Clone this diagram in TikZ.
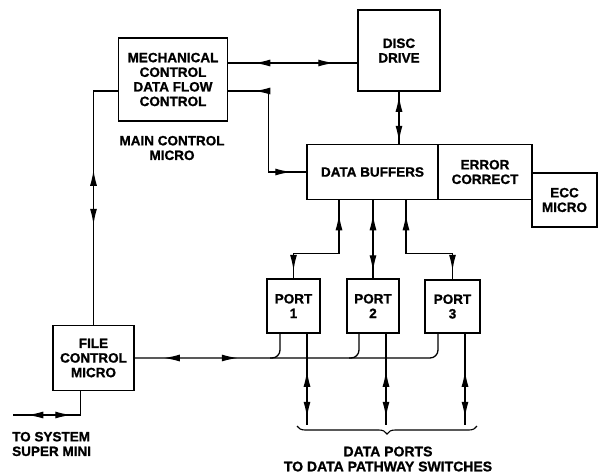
\documentclass[tikz,border=0pt]{standalone}
\usepackage{fontspec}
\setmainfont{Liberation Sans}[BoldFeatures={FakeBold=1.2}]
\usetikzlibrary{arrows.meta,decorations.markings,decorations.pathreplacing,calc}
\tikzset{
  box/.style={draw, line width=1.5pt, inner sep=0pt, align=center,
    font=\bfseries\fontsize{13.5}{14.6}\selectfont},
  lbl/.style={inner sep=0pt, align=center,
    font=\bfseries\fontsize{13.5}{14.6}\selectfont},
  conn/.style={line width=1.3pt},
  arrs/.style 2 args={conn, postaction={decorate, decoration={markings,
    mark=at position #1 with {\arrowreversed{Latex[length=16pt,width=7pt]}},
    mark=at position #2 with {\arrow{Latex[length=16pt,width=7pt]}}}}},
}
\begin{document}
\begin{tikzpicture}[x=1pt,y=-1pt]
\useasboundingbox (0,0) rectangle (600,475);

% boxes
\node[box, minimum width=109pt, minimum height=83pt] (mcc) at (173,79.5) {MECHANICAL\\CONTROL\\DATA FLOW\\CONTROL};
\node[box, minimum width=82pt, minimum height=81pt] (disc) at (399,50.5) {DISC\\DRIVE};
\node[box, minimum width=131pt, minimum height=55pt] (db) at (372.5,172) {DATA BUFFERS};
\node[box, minimum width=94pt, minimum height=55pt] (ec) at (485,172) {ERROR\\CORRECT};
\node[box, minimum width=65pt, minimum height=54pt] (ecc) at (564.5,200) {ECC\\MICRO};
\node[box, minimum width=53pt, minimum height=54pt] (p1) at (293.5,306) {PORT\\1};
\node[box, minimum width=52pt, minimum height=54pt] (p2) at (373,306) {PORT\\2};
\node[box, minimum width=55pt, minimum height=53pt] (p3) at (452.5,306.5) {PORT\\3};
\node[box, minimum width=81pt, minimum height=65pt] (fcm) at (93.5,358) {FILE\\CONTROL\\MICRO};

% labels
\node[lbl] (mcl) at (172,148) {MAIN CONTROL\\MICRO};
\node[lbl, align=left, anchor=west] (sysl) at (12,444) {TO SYSTEM\\SUPER MINI};
\node[lbl, font=\bfseries\fontsize{14}{15}\selectfont] (dpl) at (388,459) {DATA PORTS\\TO DATA PATHWAY SWITCHES};

% free ends
\coordinate (sys) at (13,415);
\coordinate (d1) at (307,425);
\coordinate (d2) at (386,425);
\coordinate (d3) at (465,425);
\coordinate (br1) at (477,426);
\coordinate (br2) at (297,426);

% connectors
\draw[arrs={26pt}{106pt}] ([yshift=16.5pt]mcc.east) -- ([yshift=16.5pt]mcc.east -| disc.west);
\draw[arrs={26pt}{144pt}] ([yshift=-11.5pt]mcc.east) -- ++(40,0) |- (db.west);
\draw[arrs={4pt}{50pt}] (disc.south) -- (disc.south |- db.north);
\draw[arrs={14pt}{116pt}] ([xshift=-33.5pt]db.south) -- ++(0,53) -| (p1.north);
\draw[arrs={14pt}{71pt}] (db.south -| p2.north) -- (p2.north);
\draw[arrs={14pt}{117pt}] ([xshift=33.5pt]db.south) -- ++(0,53) -| (p3.north);
\draw[arrs={103pt}{158pt}] ([yshift=-11.5pt]mcc.west) -| (fcm.north);
\draw[arrs={33pt}{77pt}] ([xshift=-13pt]fcm.south) |- (sys);

% port bus
\coordinate (p1c) at ([xshift=-13.5pt]p1.south);
\coordinate (p2c) at ([xshift=-14pt]p2.south);
\coordinate (p3c) at ([xshift=-14.5pt]p3.south);
\draw[arrs={29pt}{103pt}, rounded corners=8pt] (fcm.east) -| (p3c);
\draw[conn, rounded corners=8pt] (p1c) |- ($(p1c |- fcm.east)+(-10,0)$);
\draw[conn, rounded corners=8pt] (p2c) |- ($(p2c |- fcm.east)+(-10,0)$);

% data port lines
\draw[arrs={37pt}{84pt}] (d1 |- p1.south) -- (d1);
\draw[arrs={37pt}{84pt}] (d2 |- p2.south) -- (d2);
\draw[arrs={37pt}{84pt}] (d3 |- p3.south) -- (d3);

% brace
\draw[line width=1.1pt, decorate, decoration={brace, amplitude=8pt}] (br1) -- (br2);
\end{tikzpicture}
\end{document}
